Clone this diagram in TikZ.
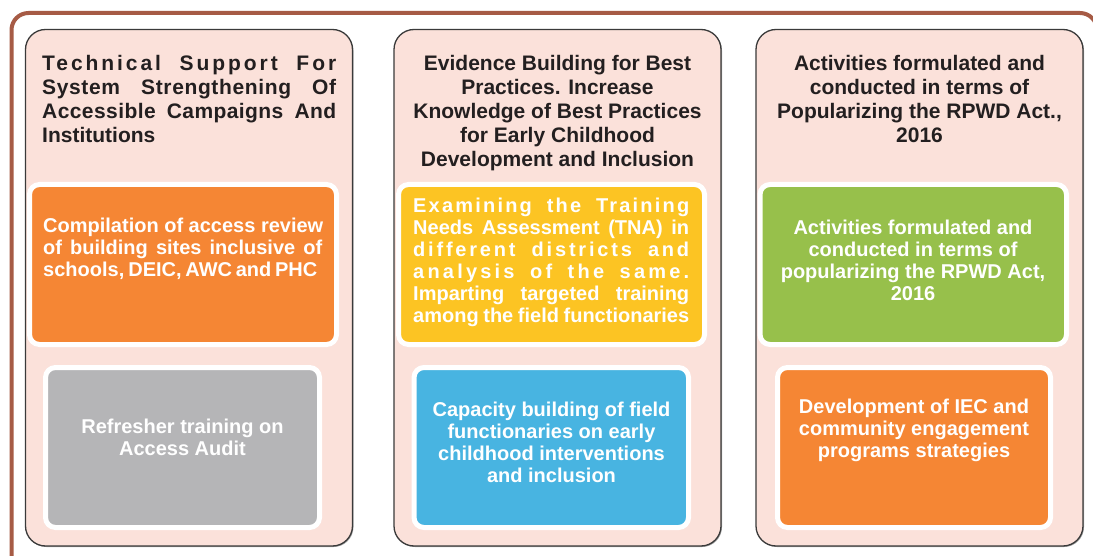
\documentclass[tikz,border=0pt]{standalone}
\usepackage{fontspec}
\setmainfont{Liberation Sans}
\usetikzlibrary{shadows}
\definecolor{pinkbg}{HTML}{FBE1DA}
\definecolor{orangeC}{HTML}{F58634}
\definecolor{yellowC}{HTML}{FCC423}
\definecolor{greenC}{HTML}{97C04B}
\definecolor{blueC}{HTML}{48B4E1}
\definecolor{grayC}{HTML}{B5B5B7}
\definecolor{brownC}{HTML}{A65B45}
\definecolor{panelline}{HTML}{3A3A3A}
\definecolor{titletext}{HTML}{231F20}
\newcommand{\spreadline}[3]{\makebox[#1][s]{\addfontfeature{LetterSpace=#2}#3}}
\begin{document}
\begin{tikzpicture}[x=1pt,y=-1pt,
  panel/.style={draw=panelline, line width=1.3pt, fill=pinkbg, rounded corners=20pt,
    minimum width=327pt, minimum height=516.5pt, inner sep=0pt, outer sep=0pt,
    drop shadow={shadow xshift=1pt, shadow yshift=-1pt, opacity=0.35, fill=black}},
  box/.style={draw=white, line width=5pt, rounded corners=10pt, minimum height=160pt,
    inner sep=0pt, outer sep=0pt},
  ttl/.style={inner sep=0pt, text=titletext, font=\fontsize{21}{24}\selectfont\bfseries},
  boxtxt/.style={inner sep=0pt, text=white, font=\fontsize{20}{22}\selectfont\bfseries},
]
\useasboundingbox (0,0) rectangle (1093,556);
\fill[white] (0,0) rectangle (1093,556);
% outer frame
\draw[brownC, line width=4pt, rounded corners=17pt] (11.5,572) -- (11.5,13) -- (1097,13) -- (1097,80);
% panels
\node[panel] (p1) at (189,287.75) {};
\node[panel] (p2) at (557.5,287.75) {};
\node[panel] (p3) at (919.5,287.75) {};
% inner boxes
\node[box, fill=orangeC, minimum width=307pt] (b1) at (183,264.5) {};
\node[box, fill=grayC, minimum width=274pt] (b2) at (182.5,447.5) {};
\node[box, fill=yellowC, minimum width=306pt] (b3) at (551.5,264.5) {};
\node[box, fill=blueC, minimum width=274.5pt] (b4) at (551.25,447.5) {};
\node[box, fill=greenC, minimum width=306.5pt] (b5) at (913.25,264.5) {};
\node[box, fill=orangeC, minimum width=273pt] (b6) at (914,447.5) {};
% titles
\node[ttl, anchor=north west, align=left] (t1) at (42,55)
  {\spreadline{294pt}{14}{Technical Support For}\\
   \spreadline{294pt}{3}{System Strengthening Of}\\
   \spreadline{294pt}{2}{Accessible Campaigns And}\\
   Institutions};
\node[ttl, anchor=north, align=center] (t2) at (557.5,55)
  {Evidence Building for Best\\Practices. Increase\\Knowledge of Best Practices\\for Early Childhood\\Development and Inclusion};
\node[ttl, anchor=north, align=center] (t3) at (919.5,55)
  {Activities formulated and\\conducted in terms of\\Popularizing the RPWD Act.,\\2016};
% box texts
\node[boxtxt, anchor=north west, align=left] (x1) at (43,217.6)
  {Compilation of access review\\
   \spreadline{279pt}{0}{of building sites inclusive of}\\
   \spreadline{273pt}{0}{schools, DEIC, AWC and PHC}};
\node[boxtxt, anchor=north, align=center] (x2) at (182.5,418.6)
  {Refresher training on\\Access Audit};
\node[boxtxt, anchor=north west, align=left] (x3) at (413,197.6)
  {\spreadline{276pt}{11}{Examining the Training}\\
   \spreadline{276pt}{0}{Needs Assessment (TNA) in}\\
   \spreadline{276pt}{14}{different districts and}\\
   \spreadline{276pt}{16}{analysis of the same.}\\
   \spreadline{276pt}{0}{Imparting targeted training}\\
   \spreadline{276pt}{0}{among the field functionaries}};
\node[boxtxt, anchor=north, align=center] (x4) at (551.5,401.6)
  {Capacity building of field\\functionaries on early\\childhood interventions\\and inclusion};
\node[boxtxt, anchor=north, align=center] (x5) at (913,219.6)
  {Activities formulated and\\conducted in terms of\\popularizing the RPWD Act,\\2016};
\node[boxtxt, anchor=north, align=center] (x6) at (914,398.6)
  {Development of IEC and\\community engagement\\programs strategies};
\end{tikzpicture}
\end{document}
